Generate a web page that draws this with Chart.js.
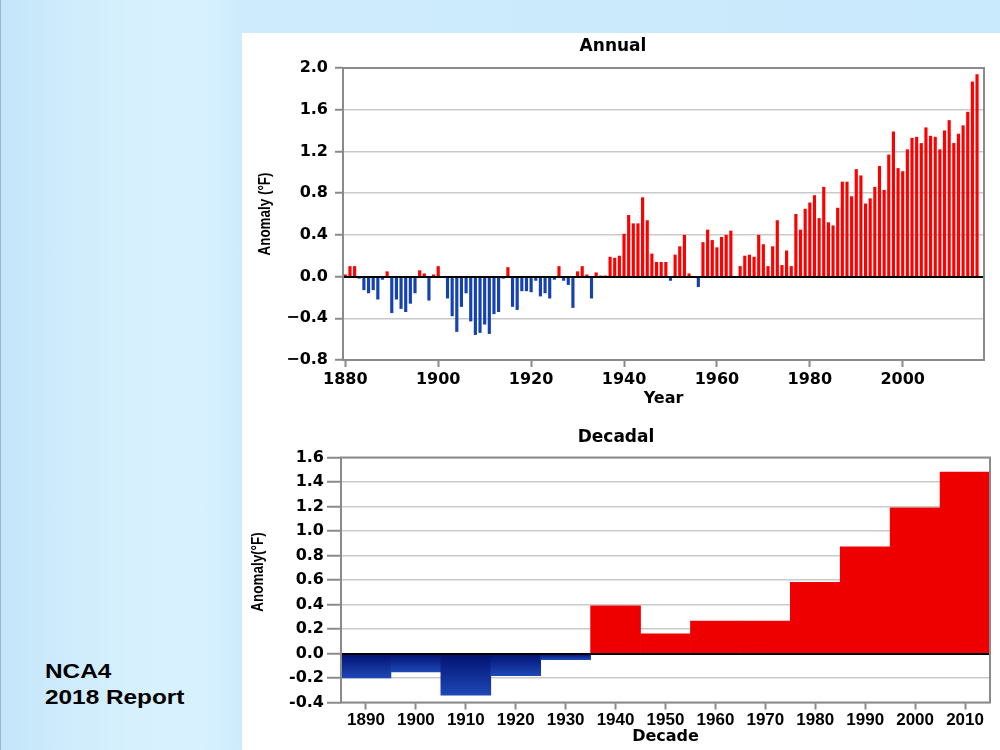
<!DOCTYPE html>
<html>
<head>
<meta charset="utf-8">
<script src="https://cdn.jsdelivr.net/npm/chart.js@4.4.0/dist/chart.umd.min.js"></script>
<style>
html,body{margin:0;padding:0;}
body{width:1000px;height:750px;position:relative;overflow:hidden;
  background:linear-gradient(to right,#c3e5fa 0%,#cdebfc 6%,#d6f0fd 13%,#d8f1fe 20%,#cdebfc 24.2%,#c9e9fc 100%);}
#edge{position:absolute;left:0;top:0;width:1px;height:750px;background:#9fb4c4;}
#panel{position:absolute;left:242px;top:33px;width:758px;height:717px;background:#fff;}
canvas{position:absolute;left:242px;}
#c1{top:33px;}
#c2{top:410px;}
.lbl{position:absolute;left:45px;font:bold 21px "Liberation Sans",Arial,sans-serif;color:#000;
  transform:scaleX(1.16);transform-origin:0 0;white-space:nowrap;line-height:24px;}
.ytitle{position:absolute;font:bold 16px "Liberation Sans",Arial,sans-serif;color:#000;white-space:nowrap;
  line-height:18px;transform:translate(-50%,-50%) rotate(-90deg) scaleX(0.84);}
</style>
</head>
<body>
<div id="edge"></div>
<div id="panel"></div>
<canvas id="c1" width="758" height="377"></canvas>
<canvas id="c2" width="758" height="340"></canvas>
<div class="ytitle" style="left:265px;top:214px">Anomaly (°F)</div>
<div class="ytitle" style="left:258px;top:572px">Anomaly(°F)</div>
<div class="lbl" style="top:659px">NCA4</div>
<div class="lbl" style="top:685px">2018 Report</div>
<script>
// ---------- DATA ----------
const annualYears = [
  1880,1881,1882,1883,1884,1885,1886,1887,1888,1889,
  1890,1891,1892,1893,1894,1895,1896,1897,1898,1899,
  1900,1901,1902,1903,1904,1905,1906,1907,1908,1909,
  1910,1911,1912,1913,1914,1915,1916,1917,1918,1919,
  1920,1921,1922,1923,1924,1925,1926,1927,1928,1929,
  1930,1931,1932,1933,1934,1935,1936,1937,1938,1939,
  1940,1941,1942,1943,1944,1945,1946,1947,1948,1949,
  1950,1951,1952,1953,1954,1955,1956,1957,1958,1959,
  1960,1961,1962,1963,1964,1965,1966,1967,1968,1969,
  1970,1971,1972,1973,1974,1975,1976,1977,1978,1979,
  1980,1981,1982,1983,1984,1985,1986,1987,1988,1989,
  1990,1991,1992,1993,1994,1995,1996,1997,1998,1999,
  2000,2001,2002,2003,2004,2005,2006,2007,2008,2009,
  2010,2011,2012,2013,2014,2015,2016,2017
];
const annualAnomaly = [
   0.02, 0.10, 0.10,-0.02,-0.13,-0.16,-0.13,-0.22,-0.03, 0.05,
  -0.35,-0.22,-0.31,-0.34,-0.26,-0.16, 0.06, 0.03,-0.23, 0.02,
   0.10,-0.01,-0.21,-0.38,-0.53,-0.29,-0.16,-0.43,-0.56,-0.54,
  -0.46,-0.55,-0.36,-0.34,-0.02, 0.09,-0.29,-0.32,-0.14,-0.14,
  -0.15,-0.04,-0.19,-0.16,-0.21,-0.03, 0.10,-0.04,-0.08,-0.30,
   0.05, 0.10, 0.02,-0.21, 0.04, 0.01, 0.01, 0.19, 0.18, 0.20,
   0.41, 0.59, 0.51, 0.51, 0.76, 0.54, 0.22, 0.14, 0.14, 0.14,
  -0.04, 0.21, 0.29, 0.40, 0.03, 0.00,-0.10, 0.33, 0.45, 0.35,
   0.28, 0.38, 0.40, 0.44,-0.01, 0.10, 0.20, 0.21, 0.19, 0.40,
   0.31, 0.10, 0.29, 0.54, 0.11, 0.25, 0.10, 0.60, 0.45, 0.65,
   0.71, 0.78, 0.56, 0.86, 0.52, 0.49, 0.66, 0.91, 0.91, 0.77,
   1.03, 0.97, 0.70, 0.75, 0.86, 1.06, 0.83, 1.17, 1.39, 1.04,
   1.01, 1.22, 1.33, 1.34, 1.28, 1.43, 1.35, 1.34, 1.22, 1.40,
   1.50, 1.28, 1.37, 1.45, 1.58, 1.87, 1.94, null
];
const decades = ['1890','1900','1910','1920','1930','1940','1950','1960','1970','1980','1990','2000','2010'];
const decadalAnomaly = [-0.20,-0.15,-0.34,-0.18,-0.05,0.39,0.16,0.265,0.265,0.58,0.87,1.19,1.48];
const annualYTicks = {min:-0.8, max:2.0, step:0.4};
const decadalYTicks = {min:-0.4, max:1.6, step:0.2};
const annualLabelEvery = 20;

// ---------- STYLE ----------
const RED = '#ff0000', DRED = '#ee0000', BLUE = '#1442b2';
const GRID = '#c9c9c9', FRAME = '#8a8a8a';
const tickFont = {family:'"DejaVu Sans", sans-serif', weight:'bold', size:16};
const decTickFont = {family:'"Liberation Sans", Arial, sans-serif', weight:'bold', size:17};
const titleFont = {family:'"DejaVu Sans", sans-serif', weight:'bold', size:17};
const axTitleFont = {family:'"DejaVu Sans", sans-serif', weight:'bold', size:16};

const framePlugin = {
  id:'frame',
  afterDatasetsDraw(chart){
    const {ctx, chartArea:a, scales:{y}} = chart;
    ctx.save();
    const z = Math.round(y.getPixelForValue(0));
    ctx.strokeStyle = '#000'; ctx.lineWidth = 2;
    ctx.beginPath(); ctx.moveTo(a.left, z); ctx.lineTo(a.right, z); ctx.stroke();
    ctx.strokeStyle = FRAME; ctx.lineWidth = 2;
    ctx.strokeRect(a.left, a.top, a.right - a.left, a.bottom - a.top);
    ctx.restore();
  }
};

function fmt(minus){
  return v => {
    const r = Math.round(v*10)/10;
    const s = (Math.abs(r) < 1e-9 ? 0 : r).toFixed(1);
    return s.replace('-', minus);
  };
}

// ---------- ANNUAL ----------
new Chart(document.getElementById('c1'), {
  type:'bar',
  data:{
    labels: annualYears.map(String),
    datasets:[{
      data: annualAnomaly,
      backgroundColor: c => (c.raw >= 0 ? RED : BLUE),
      borderWidth:0,
      barPercentage:0.68,
      categoryPercentage:1.0
    }]
  },
  options:{
    responsive:false, animation:false, devicePixelRatio:1,
    layout:{padding:{left:0,right:16,top:0,bottom:0}},
    plugins:{
      legend:{display:false}, tooltip:{enabled:false},
      title:{display:true, text:'Annual', color:'#000', font:titleFont, padding:{top:3,bottom:11.6}}
    },
    scales:{
      x:{
        offset:true,
        grid:{display:true, drawOnChartArea:false, drawTicks:true, tickLength:7, offset:false,
              tickWidth:2,
              tickColor: c => (annualYears[c.index] % annualLabelEvery === 0 ? FRAME : 'rgba(0,0,0,0)')},
        border:{display:false},
        ticks:{autoSkip:false, maxRotation:0, minRotation:0, color:'#000', font:tickFont, padding:3,
               callback:(v,i) => (annualYears[i] % annualLabelEvery === 0 ? String(annualYears[i]) : '')},
        title:{display:true, text:'Year', color:'#000', font:axTitleFont, padding:{top:0,bottom:2}},
        afterFit(s){ s.height = 50; }
      },
      y:{
        min:annualYTicks.min, max:annualYTicks.max,
        grid:{color:GRID, lineWidth:1.5, drawTicks:true, tickLength:8, tickColor:FRAME, tickWidth:2},
        border:{display:false},
        ticks:{stepSize:annualYTicks.step, color:'#000', font:tickFont, padding:7, callback:fmt('\u2212')},
        afterFit(s){ s.width = 101; }
      }
    }
  },
  plugins:[framePlugin]
});

// ---------- DECADAL ----------
new Chart(document.getElementById('c2'), {
  type:'bar',
  data:{
    labels: decades,
    datasets:[{
      data: decadalAnomaly,
      backgroundColor: c => {
        const v = c.raw;
        if (v >= 0) return DRED;
        const ch = c.chart;
        if (!ch.chartArea || !ch.scales.y) return '#0b2a92';
        const y = ch.scales.y;
        const y0 = y.getPixelForValue(0), y1 = y.getPixelForValue(v);
        const g = ch.ctx.createLinearGradient(0, y0, 0, y1);
        g.addColorStop(0, '#001070');
        g.addColorStop(1, '#1e48b6');
        return g;
      },
      borderWidth:0,
      barPercentage:1.0,
      categoryPercentage:1.0
    }]
  },
  options:{
    responsive:false, animation:false, devicePixelRatio:1,
    layout:{padding:{left:0,right:10,top:0,bottom:0}},
    plugins:{
      legend:{display:false}, tooltip:{enabled:false},
      title:{display:true, text:'Decadal', color:'#000', font:titleFont, padding:{top:17.8,bottom:9.3}}
    },
    scales:{
      x:{
        offset:true,
        grid:{display:true, drawOnChartArea:false, drawTicks:true, tickLength:7, offset:false, tickColor:FRAME, tickWidth:2},
        border:{display:false},
        ticks:{autoSkip:false, maxRotation:0, minRotation:0, color:'#000', font:decTickFont, padding:1},
        title:{display:true, text:'Decade', color:'#000', font:axTitleFont, padding:{top:0,bottom:3.5}},
        afterFit(s){ s.height = 47.5; }
      },
      y:{
        min:decadalYTicks.min, max:decadalYTicks.max,
        grid:{color:GRID, lineWidth:1.5, drawTicks:true, tickLength:14, tickColor:FRAME, tickWidth:2},
        border:{display:false},
        ticks:{stepSize:decadalYTicks.step, color:'#000', font:tickFont, padding:3, callback:fmt('-')},
        afterFit(s){ s.width = 99; }
      }
    }
  },
  plugins:[framePlugin]
});
</script>
</body>
</html>
